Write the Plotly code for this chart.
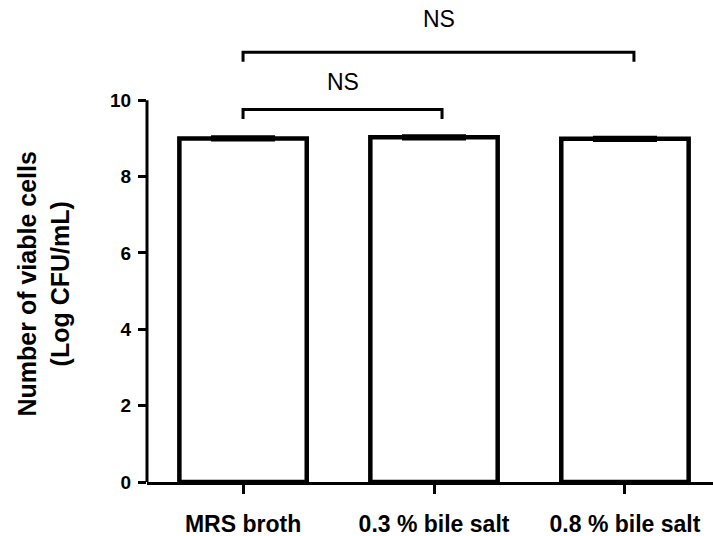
import plotly.graph_objects as go

categories = ["MRS broth", "0.3 % bile salt", "0.8 % bile salt"]
viable_log_cfu = [9.00, 9.03, 8.99]
sd_log_cfu = [0.03, 0.03, 0.03]
y_ticks = [0, 2, 4, 6, 8, 10]

# significance comparisons: (from category pos, to category pos, bracket height, label height, label)
comparisons = [
    (0.0, 1.042, 9.76, 10.47, "NS"),
    (0.0, 2.047, 11.26, 12.12, "NS"),
]
bracket_drop = 0.25

FONT = "Liberation Sans, Arial, sans-serif"
x_pos = list(range(len(categories)))

fig = go.Figure()
fig.add_trace(go.Bar(
    x=x_pos, y=viable_log_cfu, width=0.667,
    marker=dict(color="white", line=dict(color="black", width=4.5)),
    error_y=dict(type="data", array=sd_log_cfu, visible=True, color="black", thickness=4, width=32),
    showlegend=False,
))

shapes = []
annotations = []
for x0, x1, h, lh, lab in comparisons:
    shapes.append(dict(type="path", xref="x", yref="y",
                       path=f"M {x0},{h-bracket_drop} L {x0},{h} L {x1},{h} L {x1},{h-bracket_drop}",
                       line=dict(color="black", width=3)))
    annotations.append(dict(x=(x0 + x1) / 2, y=lh, xref="x", yref="y", text=lab,
                            showarrow=False, font=dict(family=FONT, size=23, color="black"),
                            xanchor="center", yanchor="middle"))

# y axis line only from 0 to 10
shapes.append(dict(type="line", xref="paper", yref="y", x0=0, x1=0, y0=0, y1=max(y_ticks),
                   line=dict(color="black", width=3)))

annotations.append(dict(x=-0.182, y=5.2, xref="paper", yref="y",
                        text="<b>Number of viable cells<br>(Log CFU/mL)</b>",
                        textangle=-90, showarrow=False, xanchor="center", yanchor="middle",
                        font=dict(family=FONT, size=25, color="black")))

fig.update_layout(
    width=713, height=536,
    margin=dict(l=147, r=0, t=1, b=54, pad=0),
    plot_bgcolor="white", paper_bgcolor="white",
    shapes=shapes, annotations=annotations,
    xaxis=dict(range=[-0.503, 2.461], tickvals=x_pos,
               ticktext=[f"<b>{c}</b>" for c in categories],
               showline=True, linecolor="black", linewidth=3,
               ticks="outside", ticklen=9, tickwidth=3, tickcolor="black",
               showgrid=False, zeroline=False, ticklabelstandoff=10,
               tickfont=dict(family=FONT, size=23, color="black")),
    yaxis=dict(range=[0, 12.6], tickvals=y_ticks,
               ticktext=[f"<b>{v}</b>" for v in y_ticks],
               showline=False, ticks="outside", ticklen=8, tickwidth=3, tickcolor="black",
               showgrid=False, zeroline=False, ticklabelstandoff=3,
               tickfont=dict(family=FONT, size=19, color="black")),
)

fig.write_html("out.html", config={"displayModeBar": False},
               post_script="document.body.style.margin='0';document.body.style.overflow='hidden';")
